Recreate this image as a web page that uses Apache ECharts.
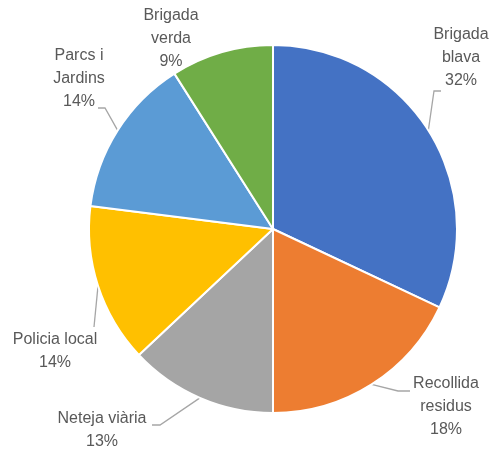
<!DOCTYPE html>
<html>
<head>
<meta charset="utf-8">
<script src="https://cdn.jsdelivr.net/npm/echarts@6/dist/echarts.min.js"></script>
<style>
  html, body { margin: 0; padding: 0; background: #fff; }
  #chart { width: 489px; height: 450px; }
</style>
</head>
<body>
<div id="chart"></div>
<script>
// Share of each service, in percent (clockwise from 12 o'clock)
const categories = ['Brigada blava', 'Recollida residus', 'Neteja viària', 'Policia local', 'Parcs i Jardins', 'Brigada verda'];
const labelTexts = ['Brigada\nblava', 'Recollida\nresidus', 'Neteja viària', 'Policia local', 'Parcs i\nJardins', 'Brigada\nverda'];
const values = [32, 18, 13, 14, 14, 9];
const colors = ['#4472C4', '#ED7D31', '#A5A5A5', '#FFC000', '#5B9BD5', '#70AD47'];

// Pie geometry
const CX = 273, CY = 229, R = 184;

// Label block centres, placed around the pie
const labelSpots = [[461, 58], [446, 407], [102, 430], [55, 351], [79, 79], [171, 39]];
// Leader line bends and ends near each label (null = no leader)
const leaderBends = [[434, 91], [398, 391], [160, 425], [94, 327], [105, 108], null];
const leaderEnds = [[441, 91], [410, 391], [152, 425], [94, 327], [98, 108], null];

// Point on the rim at the middle of each slice
const total = values.reduce((a, b) => a + b, 0);
const rimPoints = [];
let acc = 0;
values.forEach(v => {
  const mid = (acc + v / 2) / total * Math.PI * 2;
  rimPoints.push([CX + R * Math.sin(mid), CY - R * Math.cos(mid)]);
  acc += v;
});

const chart = echarts.init(document.getElementById('chart'), null, { renderer: 'canvas' });

chart.setOption({
  animation: false,
  backgroundColor: '#ffffff',
  series: [{
    type: 'pie',
    center: [CX, CY],
    radius: [0, R],
    startAngle: 90,
    clockwise: true,
    data: categories.map((name, i) => ({
      name: name,
      value: values[i],
      itemStyle: { color: colors[i] },
      labelLine: { show: leaderBends[i] !== null }
    })),
    itemStyle: { borderColor: '#ffffff', borderWidth: 2 },
    label: {
      show: true,
      position: 'outside',
      formatter: p => labelTexts[p.dataIndex] + '\n' + p.value + '%',
      fontFamily: 'Liberation Sans, Arial, sans-serif',
      fontSize: 16,
      lineHeight: 23,
      color: '#595959',
      align: 'center',
      overflow: 'none'
    },
    labelLine: {
      show: true,
      length: 8,
      length2: 6,
      lineStyle: { color: '#A6A6A6', width: 1.3 }
    },
    labelLayout: p => {
      const i = p.dataIndex;
      const out = {
        x: labelSpots[i][0],
        y: labelSpots[i][1],
        align: 'center',
        verticalAlign: 'middle'
      };
      if (leaderBends[i]) {
        out.labelLinePoints = [rimPoints[i], leaderBends[i], leaderEnds[i]];
      }
      return out;
    }
  }]
});
</script>
</body>
</html>
